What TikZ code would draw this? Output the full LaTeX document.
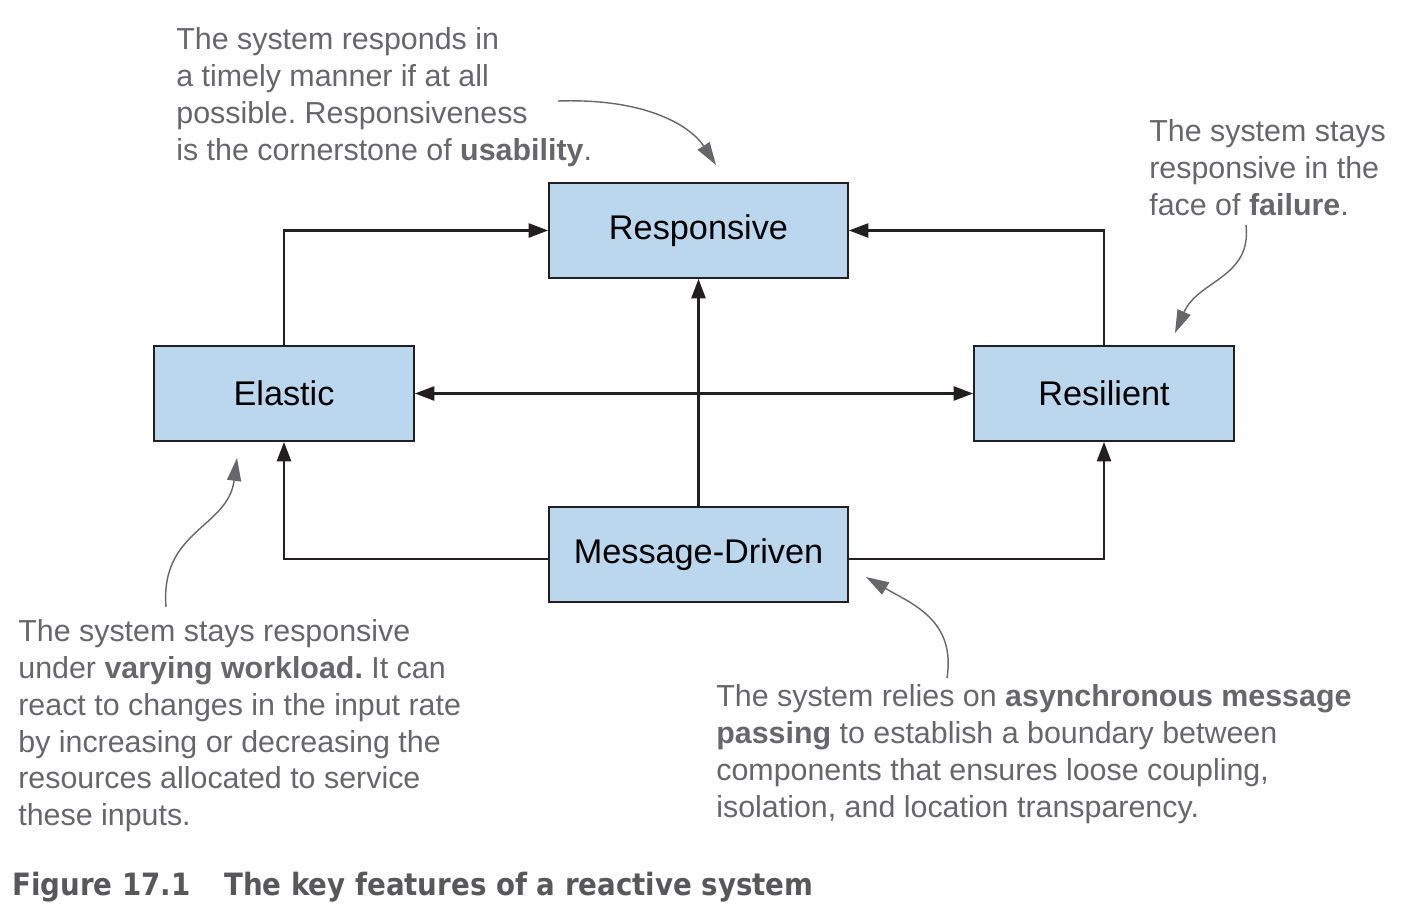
\documentclass[tikz,border=0pt]{standalone}
\usepackage{fontspec}
\setmainfont{Liberation Sans}
\newfontfamily\capfont{DejaVu Sans Condensed}
\usetikzlibrary{arrows.meta,positioning}
\definecolor{boxblue}{HTML}{BAD7EE}
\definecolor{boxline}{HTML}{231F20}
\definecolor{notegray}{HTML}{67676B}
\definecolor{capgray}{HTML}{58585B}
\frenchspacing
\tikzset{
  trait/.style={draw=boxline, fill=boxblue, line width=1.1pt, minimum height=1.9cm,
    inner sep=0pt, text=black, font=\fontsize{19.5}{23}\selectfont},
  link/.style={draw=boxline, line width=1.25pt, -{Triangle[length=11pt,width=8pt]}},
  note/.style={anchor=north west, align=left, inner sep=0pt, text=notegray,
    font=\fontsize{17.3}{21}\selectfont},
  pointer/.style={draw=notegray, line width=0.8pt, -{Triangle[length=13pt,width=8pt]}}
}
\begin{document}
\begin{tikzpicture}[x=0.02cm, y=-0.02cm]
  \useasboundingbox (0,0) rectangle (1414,922);
  % the four traits
  \node[trait, minimum width=5.98cm] (resp) at (698.5,230.5) {Responsive};
  \node[trait, minimum width=5.2cm] (elastic) at (284,393.5) {Elastic};
  \node[trait, minimum width=5.2cm] (resil) at (1104,393.5) {Resilient};
  \node[trait, minimum width=5.98cm] (msg) at (698.5,554.5) {Message-Driven};

  \draw[link] (elastic.north) |- (resp.west);
  \draw[link] (resil.north) |- (resp.east);
  \draw[link] (msg.north) -- (resp.south);
  \draw[link, {Triangle[length=11pt,width=8pt]}-{Triangle[length=11pt,width=8pt]}] (elastic.east) -- (resil.west);
  \draw[link] ([yshift=-0.09cm]msg.west) -| (elastic.south);
  \draw[link] ([yshift=-0.09cm]msg.east) -| (resil.south);

  % notes
  \node[note] (noteresp) at (176,27) {The system responds in\\a timely manner if at all\\possible. Responsiveness\\is the cornerstone of \textbf{usability}.};
  \node[note] (noteresil) at (1149,119) {The system stays\\responsive in the\\face of \textbf{failure}.};
  \node[note] (noteelastic) at (18,619) {The system stays responsive\\under \textbf{varying workload.} It can\\react to changes in the input rate\\by increasing or decreasing the\\resources allocated to service\\these inputs.};
  \node[note] (notemsg) at (716,684) {The system relies on \textbf{asynchronous message}\\\textbf{passing} to establish a boundary between\\components that ensures loose coupling,\\isolation, and location transparency.};

  \coordinate (p1) at (558,101);   \coordinate (q1) at (716,165);
  \coordinate (p2) at (1246,225);  \coordinate (q2) at (1175,333);
  \coordinate (p3) at (166,607);   \coordinate (q3) at (237,458);
  \coordinate (p4) at (947,678);   \coordinate (q4) at (866,577);
  \draw[pointer] (p1) .. controls (650,98) and (692,128) .. (q1);
  \draw[pointer] (p2) .. controls (1252,278) and (1198,280) .. (q2);
  \draw[pointer] (p3) .. controls (160,530) and (228,528) .. (q3);
  \draw[pointer] (p4) .. controls (956,620) and (912,604) .. (q4);

  % caption
  \node[anchor=west, inner sep=0pt, text=capgray, font=\capfont\bfseries\fontsize{17.5}{21}\selectfont] (caption) at (12,887)
    {Figure 17.1\hspace{1.1em}The key features of a reactive system};
\end{tikzpicture}
\end{document}
